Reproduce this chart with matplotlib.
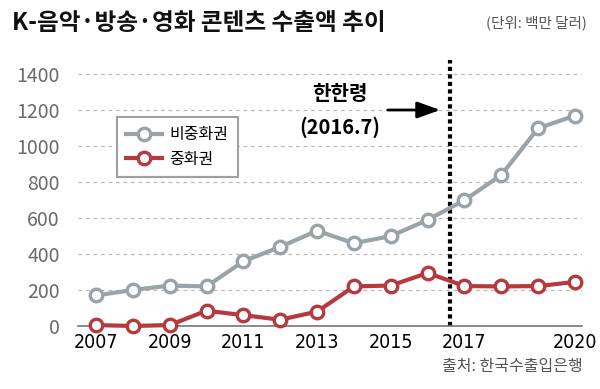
import numpy as np
import matplotlib
matplotlib.use("Agg")
import matplotlib.pyplot as plt

plt.rcParams['font.family'] = ['Noto Sans CJK KR', 'DejaVu Sans']

OUTFILE = "out.png"

YEARS = [2007, 2008, 2009, 2010, 2011, 2012, 2013, 2014, 2015, 2016, 2017, 2018, 2019, 2020]
NON_CHINA = [170, 200, 225, 220, 360, 440, 530, 460, 500, 590, 700, 840, 1100, 1170]
CHINA = [5, 0, 5, 85, 60, 35, 80, 220, 225, 295, 222, 220, 222, 245]
SERIES_NAMES = ['비중화권', '중화권']
XTICKS = [2007, 2009, 2011, 2013, 2015, 2017, 2020]
YTICKS = [0, 200, 400, 600, 800, 1000, 1200, 1400]
BAN_YEAR = 2016.62

GRAY = '#9aa3a8'
RED = '#b53a3d'

fig = plt.figure(figsize=(6, 3.89), dpi=100)
ax = fig.add_axes([0.13, 0.162, 0.84, 0.684])

line_kw = dict(lw=3, marker='o', ms=9, mfc='white', mew=2.4, clip_on=False, zorder=3)
ax.plot(YEARS, NON_CHINA, color=GRAY, mec=GRAY, label=SERIES_NAMES[0], **line_kw)
ax.plot(YEARS, CHINA, color=RED, mec=RED, label=SERIES_NAMES[1], **line_kw)

ax.axvline(BAN_YEAR, ymin=0, ymax=1, color='black', lw=3, ls=(0, (1, 0.8)), zorder=2)

ax.set_xlim(2006.51, 2020.19)
ax.set_ylim(0, 1480)
ax.set_yticks(YTICKS)
ax.set_xticks(XTICKS)
ax.yaxis.grid(True, color='#bbbbbb', lw=0.9, ls=(0, (3, 3)))
ax.set_axisbelow(True)

for s in ['top', 'right', 'left']:
    ax.spines[s].set_visible(False)
ax.spines['bottom'].set_color('#777777')
ax.spines['bottom'].set_linewidth(1.2)
ax.tick_params(axis='both', length=0)
ax.tick_params(axis='y', pad=13, labelsize=14, labelcolor='#6a6a6a')
ax.tick_params(axis='x', pad=5, labelcolor='black')
for lab in ax.get_xticklabels():
    lab.set_family('DejaVu Sans')
    lab.set_stretch('condensed')
    lab.set_fontsize(14)

leg = ax.legend(loc='upper left', bbox_to_anchor=(0.077, 0.786), borderaxespad=0,
                fancybox=False, framealpha=1, edgecolor='#a0a0a0', fontsize=11.5,
                handlelength=2.2, handletextpad=0.5, borderpad=0.6, labelspacing=0.45)
leg.get_frame().set_linewidth(1.5)

ax.annotate('', xy=(443, 389 - 110), xytext=(385, 389 - 110), xycoords='figure pixels',
            arrowprops=dict(arrowstyle='-|>,head_length=1.4,head_width=0.5', color='black', lw=2))
fig.text(340 / 600, 1 - 94 / 389, '한한령', ha='center', va='center', fontsize=14.5, fontweight='bold')
fig.text(340 / 600, 1 - 127 / 389, '(2016.7)', ha='center', va='center', fontsize=14.5, fontweight='bold')

fig.text(12 / 600, 1 - 23 / 389, 'K-음악·방송·영화 콘텐츠 수출액 추이', ha='left', va='center',
         fontsize=17, fontweight='black', color='#111111')
fig.text(587 / 600, 1 - 23 / 389, '(단위: 백만 달러)', ha='right', va='center',
         fontsize=10.5, color='#555555')
fig.text(583 / 600, 1 - 367 / 389, '출처: 한국수출입은행', ha='right', va='center',
         fontsize=11.5, color='#555555')

fig.savefig(OUTFILE, dpi=100)
